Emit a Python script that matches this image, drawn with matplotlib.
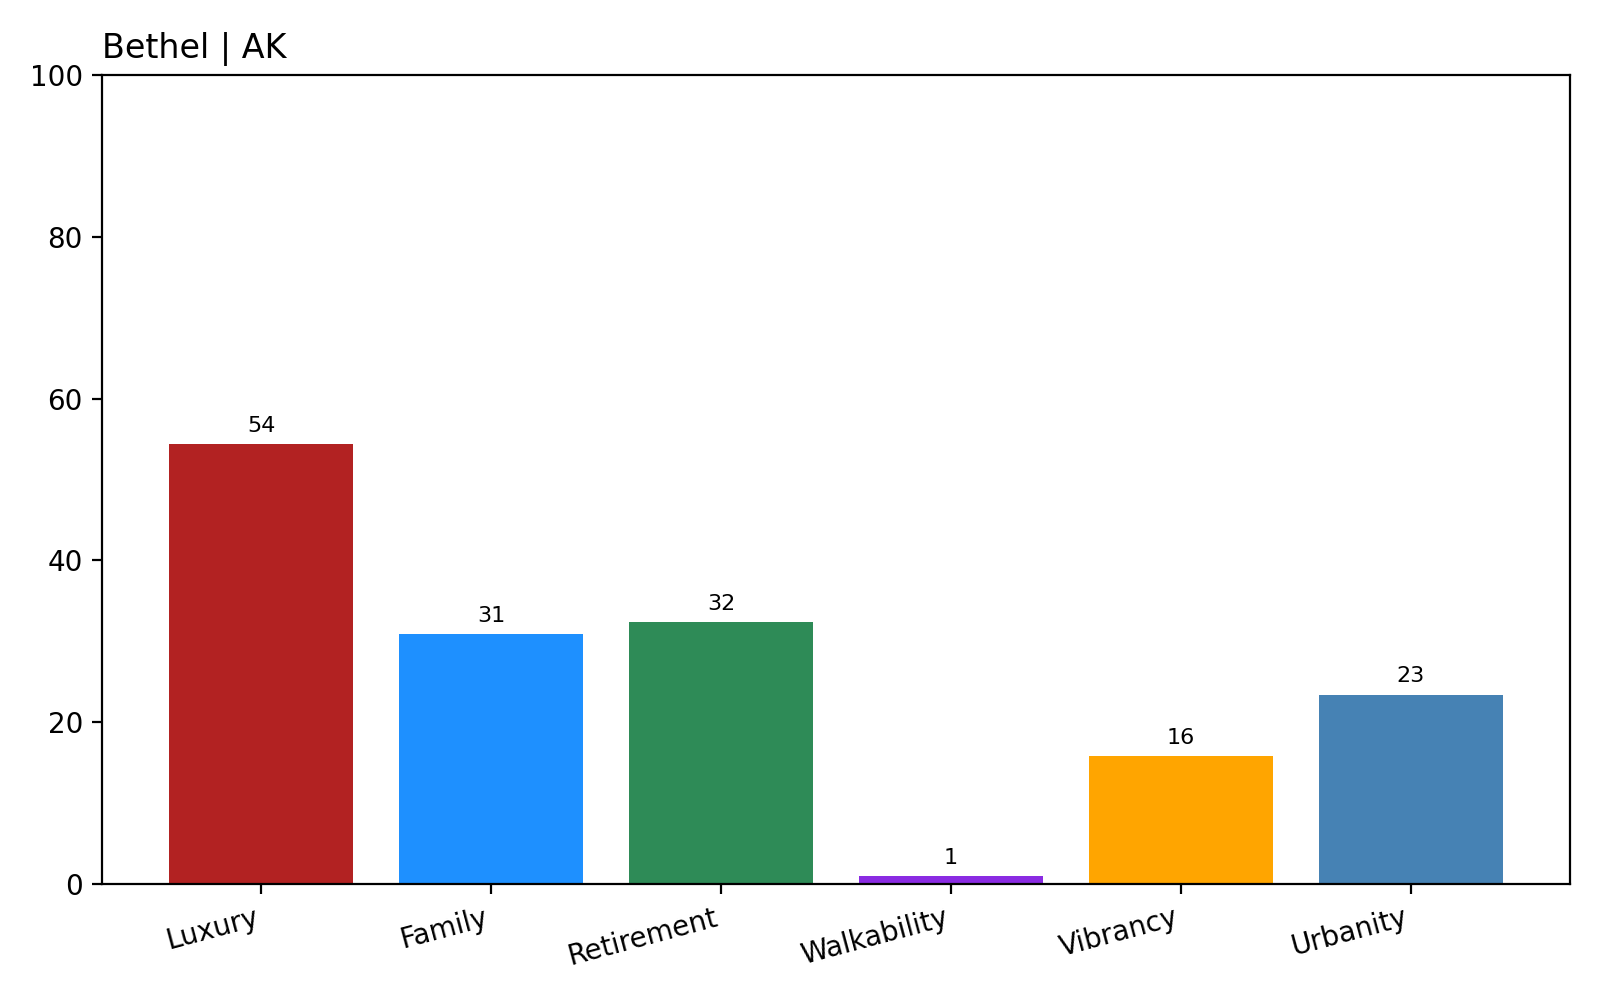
import matplotlib
matplotlib.use("Agg")
import matplotlib.pyplot as plt

categories = ["Luxury", "Family", "Retirement", "Walkability", "Vibrancy", "Urbanity"]
scores = [54.4, 30.9, 32.4, 1.0, 15.8, 23.4]
bar_colors = ["firebrick", "dodgerblue", "seagreen", "blueviolet", "orange", "steelblue"]

fig = plt.figure(figsize=(8, 5), dpi=200)
ax = fig.add_axes([0.064, 0.116, 0.917, 0.809])

bars = ax.bar(categories, scores, color=bar_colors)
ax.bar_label(bars, fmt="%.0f", padding=3, fontsize=8)

ax.set_ylim(0, 100)
ax.set_title("Bethel | AK", loc="left")
plt.setp(ax.get_xticklabels(), rotation=15, ha="right")

fig.savefig("out.png", dpi=200)
